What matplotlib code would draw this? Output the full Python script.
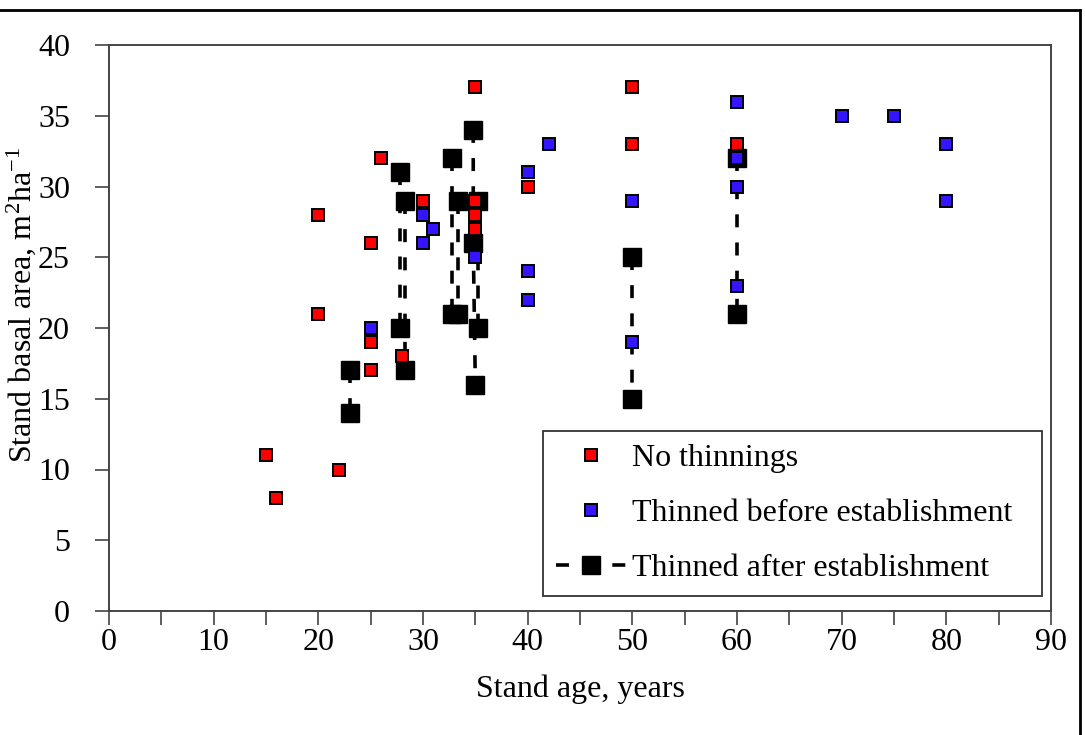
import matplotlib
matplotlib.use("Agg")
import matplotlib.pyplot as plt
from matplotlib.lines import Line2D

# ---------------- data ----------------
no_thin_age = [15, 16, 20, 20, 22, 25, 25, 25, 26, 28, 30, 35, 35, 35, 35, 40, 50, 50, 60]
no_thin_ba = [11, 8, 28, 21, 10, 26, 19, 17, 32, 18, 29, 37, 29, 28, 27, 30, 37, 33, 33]

before_age = [25, 30, 30, 31, 35, 40, 40, 40, 42, 50, 50, 60, 60, 60, 60, 70, 75, 80, 80]
before_ba = [20, 28, 26, 27, 25, 31, 24, 22, 33, 29, 19, 36, 32, 30, 23, 35, 35, 33, 29]

after_age = [[23, 23], [27.8, 27.8], [28.3, 28.3], [32.8, 32.8], [33.3, 33.3],
             [34.8, 34.8, 35.0], [35.3, 35.3], [50, 50], [60, 60]]
after_ba = [[17, 14], [31, 20], [29, 17], [32, 21], [29, 21],
            [34, 26, 16], [29, 20], [25, 15], [32, 21]]

labels = ["No thinnings", "Thinned before establishment", "Thinned after establishment"]
x_ticks = list(range(0, 91, 10))
y_ticks = list(range(0, 41, 5))

# ---------------- style ----------------
plt.rcParams['font.family'] = ['Liberation Serif', 'DejaVu Serif']
plt.rcParams['mathtext.fontset'] = 'custom'
plt.rcParams['mathtext.rm'] = 'Liberation Serif'
plt.rcParams['mathtext.it'] = 'Liberation Serif:italic'
plt.rcParams['mathtext.default'] = 'regular'

FS = 23
fig = plt.figure(figsize=(10.85, 7.35), dpi=100)
ax = fig.add_axes([109 / 1085, 1 - 611 / 735, (1051 - 109) / 1085, (611 - 45) / 735])

# thinned after establishment (dashed black lines with big squares)
for i, (xa, ya) in enumerate(zip(after_age, after_ba)):
    ax.plot(xa, ya, color='black', linestyle=(0, (3.6, 4.2)), linewidth=2.6,
            marker='s', markersize=12.5, markerfacecolor='black',
            markeredgecolor='black', zorder=2,
            label=labels[2] if i == 0 else None)

ax.plot(no_thin_age, no_thin_ba, linestyle='none', marker='s', markersize=8.5,
        markerfacecolor='#FF0000', markeredgecolor='black', markeredgewidth=1.4,
        zorder=3, label=labels[0])
ax.plot(before_age, before_ba, linestyle='none', marker='s', markersize=8.5,
        markerfacecolor='#3514FF', markeredgecolor='black', markeredgewidth=1.4,
        zorder=3, label=labels[1])

ax.set_xlim(0, 90)
ax.set_ylim(0, 40)
ax.set_xticks(x_ticks)
ax.set_xticks(list(range(5, 90, 10)), minor=True)
ax.set_yticks(y_ticks)
ax.tick_params(axis='both', which='both', direction='out', length=10, width=1.1,
               color='#333333', labelsize=FS)
ax.tick_params(axis='x', which='both', pad=2)
ax.tick_params(axis='y', which='both', pad=18)
ax.tick_params(top=False, right=False)
for s in ax.spines.values():
    s.set_linewidth(1.4)
    s.set_color('#444444')

ax.set_xlabel("Stand age, years", fontsize=FS)
ax.set_ylabel("Stand basal area, m$^{2}$ha$^{-1}$", fontsize=FS)
ax.xaxis.set_label_coords(0.5, -0.113)
ax.yaxis.set_label_coords(-0.075, 0.54)

handles, labs = ax.get_legend_handles_labels()
order = [labs.index(l) for l in labels]
leg = ax.legend([handles[k] for k in order], [labs[k] for k in order],
                loc='upper left', bbox_to_anchor=(0.4607, 0.0336, 0.5297, 0.2844),
                mode='expand',
                fontsize=FS, frameon=True, fancybox=False, shadow=False,
                edgecolor='#333333', framealpha=1, numpoints=1,
                handlelength=2.2, handletextpad=0.2, labelspacing=0.8,
                borderpad=0.4, borderaxespad=0)
leg.get_frame().set_linewidth(1.3)

# outer frame lines of the figure panel
fig.add_artist(Line2D([0, 1080 / 1085], [1 - 10 / 735] * 2, transform=fig.transFigure,
                      color='black', linewidth=2))
fig.add_artist(Line2D([1080 / 1085] * 2, [0, 1 - 10 / 735], transform=fig.transFigure,
                      color='black', linewidth=2))

fig.savefig("out.png", dpi=100)
